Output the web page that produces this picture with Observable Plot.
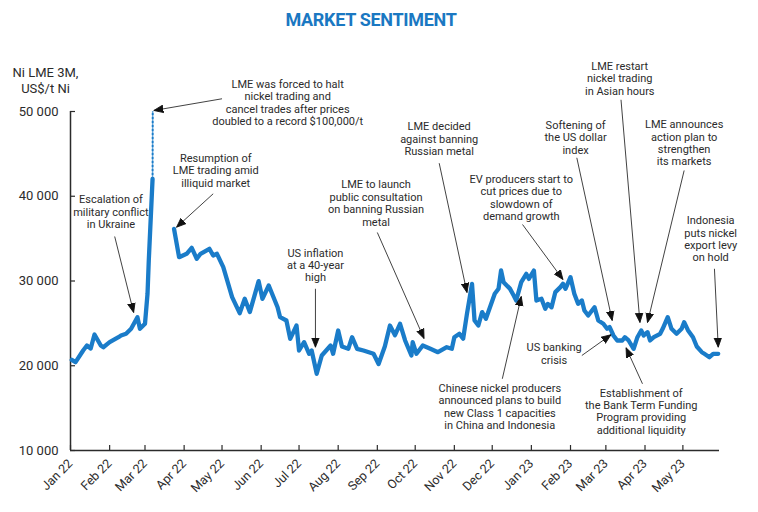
<!DOCTYPE html>
<html><head><meta charset="utf-8">
<script src="https://cdn.jsdelivr.net/npm/d3@7"></script>
<script src="https://cdn.jsdelivr.net/npm/@observablehq/plot@0.6"></script>
<style>
body{margin:0;background:#fff;font-family:Roboto,"Liberation Sans",sans-serif;}
#title{width:742px;height:36px;line-height:40px;text-align:center;font-weight:700;font-size:18px;color:#1a78c2;letter-spacing:-0.3px}
#chart svg{display:block}
</style></head><body>
<div id="title">MARKET SENTIMENT</div>
<div id="chart"></div>
<script>
// Ni LME 3M price, US$/t (null = trading suspended)
const priceDates = ["2022-01-02","2022-01-05","2022-01-11","2022-01-14","2022-01-17","2022-01-20","2022-01-25","2022-01-27","2022-02-01","2022-02-08","2022-02-10","2022-02-14","2022-02-18","2022-02-23","2022-02-25","2022-03-01","2022-03-03","2022-03-04","2022-03-07","2022-03-15","2022-03-24","2022-03-28","2022-03-31","2022-04-03","2022-04-07","2022-04-11","2022-04-14","2022-04-21","2022-04-24","2022-04-27","2022-05-02","2022-05-09","2022-05-15","2022-05-19","2022-05-23","2022-05-30","2022-06-02","2022-06-07","2022-06-14","2022-06-16","2022-06-21","2022-06-24","2022-06-29","2022-07-01","2022-07-05","2022-07-09","2022-07-11","2022-07-15","2022-07-19","2022-07-26","2022-07-28","2022-08-01","2022-08-04","2022-08-09","2022-08-12","2022-08-16","2022-08-21","2022-08-29","2022-09-02","2022-09-07","2022-09-11","2022-09-15","2022-09-19","2022-09-23","2022-09-28","2022-09-29","2022-10-02","2022-10-07","2022-10-13","2022-10-19","2022-10-26","2022-10-30","2022-11-01","2022-11-05","2022-11-08","2022-11-11","2022-11-15","2022-11-17","2022-11-20","2022-11-23","2022-11-26","2022-12-03","2022-12-06","2022-12-08","2022-12-10","2022-12-15","2022-12-18","2022-12-20","2022-12-24","2022-12-28","2022-12-30","2023-01-03","2023-01-05","2023-01-09","2023-01-12","2023-01-14","2023-01-17","2023-01-20","2023-01-24","2023-01-26","2023-01-28","2023-02-01","2023-02-04","2023-02-07","2023-02-10","2023-02-12","2023-02-15","2023-02-20","2023-02-23","2023-02-27","2023-03-02","2023-03-04","2023-03-07","2023-03-10","2023-03-14","2023-03-16","2023-03-19","2023-03-23","2023-03-26","2023-03-29","2023-03-31","2023-04-03","2023-04-05","2023-04-08","2023-04-13","2023-04-15","2023-04-19","2023-04-22","2023-04-26","2023-04-30","2023-05-02","2023-05-05","2023-05-09","2023-05-12","2023-05-16","2023-05-18","2023-05-22","2023-05-25","2023-05-29"];
const priceValues = [20700,20420,21800,22390,22040,23690,22390,22190,22780,23370,23570,23770,24360,25730,24360,24950,28490,32420,42060,null,36150,32810,33010,33210,33920,32620,33210,33800,33010,33210,31630,28090,26200,27900,26330,29980,27900,29470,26900,25730,25340,23180,24750,21800,22780,21410,21800,19050,21210,22390,21410,24160,22270,22000,23370,22000,21800,21410,20200,22300,24750,23600,24950,22980,21210,22780,21410,22390,22000,21600,22190,22000,23370,23770,23200,26130,29670,25340,24750,26330,25540,28490,29080,31240,29860,29100,28290,27700,29860,30840,30250,31240,27700,27900,26720,27300,26900,28690,29280,29670,29080,30450,28490,27310,27700,26520,25930,26910,25340,24950,24360,24560,23570,22980,22980,23370,22980,22000,23370,24160,23570,23960,22980,23370,23770,24360,25730,24360,23770,24360,25140,24200,23370,22270,21600,21410,21010,21410,21410];
// Trading halt: prices spiked to a record $100,000/t (dotted, clipped at chart top)
const haltDates = ["2022-03-07","2022-03-08"];
const haltValues = [42060,100000];

const yTicks = [10000,20000,30000,40000,50000];
const monthTicks = ["2022-01-01","2022-02-01","2022-03-01","2022-04-01","2022-05-01","2022-06-01","2022-07-01","2022-08-01","2022-09-01","2022-10-01","2022-11-01","2022-12-01","2023-01-01","2023-02-01","2023-03-01","2023-04-01","2023-05-01"];
const xDomain = ["2022-01-01","2023-05-30"];
const yDomain = [10000,50000];
const yTitle = "Ni LME 3M,\nUS$/t Ni";

// Annotations
const noteTexts = [
  "Escalation of\nmilitary conflict\nin Ukraine",
  "LME was forced to halt\nnickel trading and\ncancel trades after prices\ndoubled to a record $100,000/t",
  "Resumption of\nLME trading amid\nilliquid market",
  "LME to launch\npublic consultation\non banning Russian\nmetal",
  "US inflation\nat a 40-year\nhigh",
  "LME decided\nagainst banning\nRussian metal",
  "EV producers start to\ncut prices due to\nslowdown of\ndemand growth",
  "Softening of\nthe US dollar\nindex",
  "LME restart\nnickel trading\nin Asian hours",
  "LME announces\naction plan to\nstrengthen\nits markets",
  "Indonesia\nputs nickel\nexport levy\non hold",
  "US banking\ncrisis",
  "Chinese nickel producers\nannounced plans to build\nnew Class 1 capacities\nin China and Indonesia",
  "Establishment of\nthe Bank Term Funding\nProgram providing\nadditional liquidity"
];
const noteDates = ["2022-02-02","2022-06-22","2022-04-26","2022-08-31","2022-07-14","2022-10-20","2022-12-24","2023-02-05","2023-03-12","2023-05-02","2023-05-23","2023-01-19","2022-12-07","2023-03-29"];
const noteValues = [38155,51064,43075,39205,31889,46769,39854,46934,53908,46309,34969,21422,15204,14626];
const arrowFromDates = ["2022-02-05","2022-05-01","2022-04-24","2022-09-01","2022-07-14","2022-10-20","2022-12-25","2023-02-06","2023-03-13","2023-05-02","2023-05-26","2023-02-10","2022-12-09","2023-03-30"];
const arrowFromValues = [35252,51501,40291,35724,29081,43901,36668,44539,51383,43040,31441,21210,18461,17871];
const arrowToDates = ["2022-02-20","2022-03-08","2022-03-26","2022-10-08","2022-07-14","2022-11-11","2023-01-26","2023-03-06","2023-03-28","2023-04-03","2023-05-29","2023-03-05","2022-12-24","2023-03-17"];
const arrowToValues = [26284,50120,36349,23216,22189,28644,30178,25340,25104,25104,22189,23653,28172,22119];

const parse = s => new Date(s + "T00:00:00Z");
const prices = priceDates.map((d, i) => ({date: parse(d), value: priceValues[i]}));
const halt = haltDates.map((d, i) => ({date: parse(d), value: haltValues[i]}));
const notes = noteTexts.map((t, i) => ({text: t, date: parse(noteDates[i]), value: noteValues[i]}));
const arrows = arrowFromDates.map((d, i) => ({x1: parse(d), y1: arrowFromValues[i], x2: parse(arrowToDates[i]), y2: arrowToValues[i]}));
const months = monthTicks.map(parse);

const blue = "#1a7cc9";
const ink = "#2b2b2b";

const headMarker = () => {
  const ns = "http://www.w3.org/2000/svg";
  const m = document.createElementNS(ns, "marker");
  m.setAttribute("viewBox", "-5 -5 10 10");
  m.setAttribute("markerWidth", 10.5);
  m.setAttribute("markerHeight", 10.5);
  m.setAttribute("markerUnits", "userSpaceOnUse");
  m.setAttribute("refX", 4);
  m.setAttribute("refY", 0);
  m.setAttribute("orient", "auto");
  const p = document.createElementNS(ns, "path");
  p.setAttribute("d", "M-5,-3.6L4,0L-5,3.6Z");
  p.setAttribute("fill", "#111");
  m.appendChild(p);
  return m;
};

const W = 758, H = 476, mL = 70, mR = 39, mT = 75, mB = 62;
const plotW = W - mL - mR, plotH = H - mT - mB;
const fmt = d => d3.format(",")(d).replace(/,/g, " ");

const chart = Plot.plot({
  width: W, height: H,
  marginLeft: mL, marginRight: mR, marginTop: mT, marginBottom: mB,
  style: {fontFamily: "Roboto, 'Liberation Sans', sans-serif", color: ink, background: "#fff", overflow: "visible"},
  x: {type: "utc", domain: xDomain.map(parse)},
  y: {domain: yDomain},
  marks: [
    Plot.axisY({ticks: yTicks, tickSize: 0, tickPadding: 12, tickFormat: fmt, fontSize: 13, label: null, fill: ink}),
    Plot.tickY(yTicks, {y: d => d, insetRight: plotW - 5, stroke: ink, strokeWidth: 1.2}),
    Plot.axisX({ticks: months, tickSize: 0, tickPadding: 11, tickRotate: -45, tickFormat: d3.utcFormat("%b %y"), fontSize: 12.5, label: null, fill: ink}),
    Plot.tickX(months, {x: d => d, insetTop: plotH - 5, stroke: ink, strokeWidth: 1.2}),
    Plot.ruleX([parse(xDomain[0])], {stroke: ink, strokeWidth: 1.5}),
    Plot.ruleY([yDomain[0]], {stroke: ink, strokeWidth: 1.5}),
    Plot.text([yTitle], {frameAnchor: "top-left", textAnchor: "middle", lineAnchor: "middle", dx: -25, dy: -32, fontSize: 13, lineHeight: 1.23, fill: ink}),
    Plot.line(halt, {x: "date", y: "value", stroke: blue, strokeWidth: 2, strokeDasharray: "1.6,2.4", clip: true}),
    Plot.line(prices, {x: "date", y: "value", stroke: blue, strokeWidth: 4.3, strokeLinejoin: "round", strokeLinecap: "round"}),
    Plot.link(arrows, {x1: "x1", y1: "y1", x2: "x2", y2: "y2", stroke: "#111", strokeWidth: 0.8, markerEnd: headMarker}),
    Plot.text(notes, {x: "date", y: "value", text: "text", fontSize: 11, lineHeight: 1.13, fill: ink, textAnchor: "middle"})
  ]
});
document.getElementById("chart").appendChild(chart);
</script>
</body></html>
